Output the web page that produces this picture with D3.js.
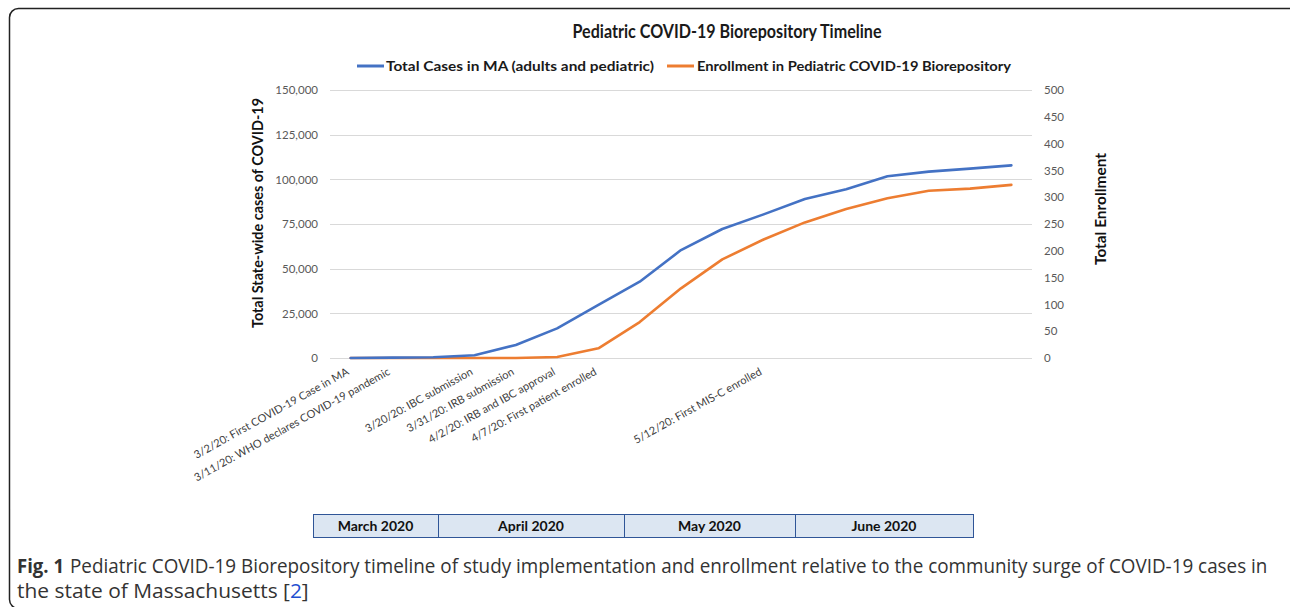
<!DOCTYPE html>
<html>
<head>
<meta charset="utf-8">
<script src="https://cdn.jsdelivr.net/npm/d3@7"></script>
<style>
  body { margin: 0; background: #fff; }
  svg { display: block; }
</style>
</head>
<body>
<div id="root"></div>
<script>
// category labels along the x axis (most weeks have no label)
const categories = [
  "3/2/20: First COVID-19 Case in MA",
  "3/11/20: WHO declares COVID-19 pandemic",
  "",
  "3/20/20: IBC submission",
  "3/31/20: IRB submission",
  "4/2/20: IRB and IBC approval",
  "4/7/20: First patient enrolled",
  "", "", "",
  "5/12/20: First MIS-C enrolled",
  "", "", "", "", "", ""
];
const casesMA = [0, 200, 400, 1500, 7300, 16600, 29700, 42700, 60400, 72200,
  80400, 89000, 94400, 101700, 104300, 106000, 107800];
const enrollment = [0, 0, 0, 0, 0, 2, 18, 67, 130, 184, 221, 253, 278, 298, 312, 316, 323];
const leftTicks = [0, 25000, 50000, 75000, 100000, 125000, 150000];
const rightTicks = [0, 50, 100, 150, 200, 250, 300, 350, 400, 450, 500];
const months = ["March 2020", "April 2020", "May 2020", "June 2020"];
const seriesNames = ["Total Cases in MA (adults and pediatric)", "Enrollment in Pediatric COVID-19 Biorepository"];

const W = 1290, H = 607;
const plot = { left: 330, right: 1032, top: 90, bottom: 358 };
const BLUE = "#4472c4", ORANGE = "#ed7d31";
const FONT = "Lato, 'Open Sans', sans-serif";
const monthEdges = [313, 438, 624, 795, 973];

const svg = d3.select("#root").append("svg")
  .attr("width", W).attr("height", H)
  .style("font-family", FONT);

function fit(sel, w) {
  return sel.attr("textLength", w).attr("lengthAdjust", "spacingAndGlyphs");
}

// figure frame
svg.append("rect")
  .attr("x", 9.5).attr("y", 8.5)
  .attr("width", 1290).attr("height", 600)
  .attr("rx", 9).attr("ry", 9)
  .attr("fill", "none").attr("stroke", "#222").attr("stroke-width", 1.5);

const x = d3.scalePoint()
  .domain(d3.range(categories.length))
  .range([plot.left, plot.right])
  .padding(0.5);
const yL = d3.scaleLinear().domain([0, 150000]).range([plot.bottom, plot.top]);
const yR = d3.scaleLinear().domain([0, 500]).range([plot.bottom, plot.top]);

// title
fit(svg.append("text")
  .attr("x", 727).attr("y", 38)
  .attr("text-anchor", "middle")
  .attr("font-size", 18).attr("font-weight", 700).attr("fill", "#1a1a1a")
  .text("Pediatric COVID-19 Biorepository Timeline"), 309);

// legend
const legendPos = [{ x: 357, tx: 386, w: 268, c: BLUE }, { x: 667, tx: 697, w: 314, c: ORANGE }];
seriesNames.forEach((name, i) => {
  const p = legendPos[i];
  svg.append("line")
    .attr("x1", p.x).attr("x2", p.x + 27).attr("y1", 66).attr("y2", 66)
    .attr("stroke", p.c).attr("stroke-width", 3);
  fit(svg.append("text")
    .attr("x", p.tx).attr("y", 71)
    .attr("font-size", 14).attr("font-weight", 700).attr("fill", "#1a1a1a")
    .text(name), p.w);
});

// gridlines
svg.append("g").selectAll("line")
  .data(leftTicks)
  .join("line")
  .attr("x1", plot.left).attr("x2", plot.right)
  .attr("y1", d => Math.round(yL(d)) + 0.5).attr("y2", d => Math.round(yL(d)) + 0.5)
  .attr("stroke", "#d9d9d9").attr("stroke-width", 1.2);

// left axis
const leftAxis = svg.append("g")
  .attr("transform", `translate(${plot.left - 12},0)`)
  .call(d3.axisLeft(yL).tickValues(leftTicks).tickSize(0).tickPadding(0)
    .tickFormat(d3.format(",")));
leftAxis.select(".domain").remove();
leftAxis.selectAll("text")
  .attr("font-size", 11.5).attr("fill", "#595959").attr("font-family", FONT);

// right axis
const rightAxis = svg.append("g")
  .attr("transform", `translate(${plot.right + 12},0)`)
  .call(d3.axisRight(yR).tickValues(rightTicks).tickSize(0).tickPadding(0));
rightAxis.select(".domain").remove();
rightAxis.selectAll("text")
  .attr("font-size", 11.5).attr("fill", "#595959").attr("font-family", FONT);

// axis titles
fit(svg.append("text")
  .attr("transform", "translate(263,213) rotate(-90)")
  .attr("text-anchor", "middle")
  .attr("font-size", 15).attr("font-weight", 700).attr("fill", "#111")
  .text("Total State-wide cases of COVID-19"), 230);
fit(svg.append("text")
  .attr("transform", "translate(1106,209) rotate(-90)")
  .attr("text-anchor", "middle")
  .attr("font-size", 15).attr("font-weight", 700).attr("fill", "#111")
  .text("Total Enrollment"), 112);

// x category labels
svg.append("g").selectAll("text")
  .data(categories.map((c, i) => ({ c, i })).filter(d => d.c))
  .join("text")
  .attr("transform", d => `translate(${x(d.i) - 1},${plot.bottom + 16}) rotate(-29)`)
  .attr("text-anchor", "end")
  .attr("font-size", 11).attr("fill", "#404040")
  .text(d => d.c);

// series lines
const line = y => d3.line().x((d, i) => x(i)).y(d => y(d));
svg.append("path")
  .datum(enrollment)
  .attr("fill", "none").attr("stroke", ORANGE).attr("stroke-width", 2.6)
  .attr("stroke-linejoin", "round").attr("stroke-linecap", "round")
  .attr("d", line(yR));
svg.append("path")
  .datum(casesMA)
  .attr("fill", "none").attr("stroke", BLUE).attr("stroke-width", 2.6)
  .attr("stroke-linejoin", "round").attr("stroke-linecap", "round")
  .attr("d", line(yL));

// month strip
const strip = svg.append("g");
months.forEach((m, i) => {
  const x0 = monthEdges[i], x1 = monthEdges[i + 1];
  strip.append("rect")
    .attr("x", x0 + 0.5).attr("y", 514.5)
    .attr("width", x1 - x0).attr("height", 23)
    .attr("fill", "#dce6f2").attr("stroke", "#2f5597").attr("stroke-width", 1);
  strip.append("text")
    .attr("x", (x0 + x1) / 2).attr("y", 531)
    .attr("text-anchor", "middle")
    .attr("font-size", 14).attr("font-weight", 700).attr("fill", "#111")
    .text(m);
});

// caption: condensed look via horizontal scaling
const CAP = "'Open Sans', sans-serif";
const cap = svg.append("g").attr("font-family", CAP).attr("font-size", 19.5).attr("fill", "#333");
const fig = cap.append("text").attr("y", 573).attr("font-weight", 700).text("Fig. 1");
const rest = cap.append("text").attr("y", 573)
  .text("Pediatric COVID-19 Biorepository timeline of study implementation and enrollment relative to the community surge of COVID-19 cases in");
const l2 = cap.append("text").attr("y", 598);
l2.append("tspan").text("the state of Massachusetts [");
l2.append("tspan").attr("fill", "#1f4fd0").text("2");
l2.append("tspan").text("]");

const figW = fig.node().getComputedTextLength();
const restW = rest.node().getComputedTextLength();
const l2W = l2.node().getComputedTextLength();
fig.attr("transform", `translate(17,0) scale(${47 / figW},1)`);
rest.attr("transform", `translate(70,0) scale(${1198 / restW},1)`);
l2.attr("transform", `translate(17,0) scale(${292 / l2W},1)`);
</script>
</body>
</html>
